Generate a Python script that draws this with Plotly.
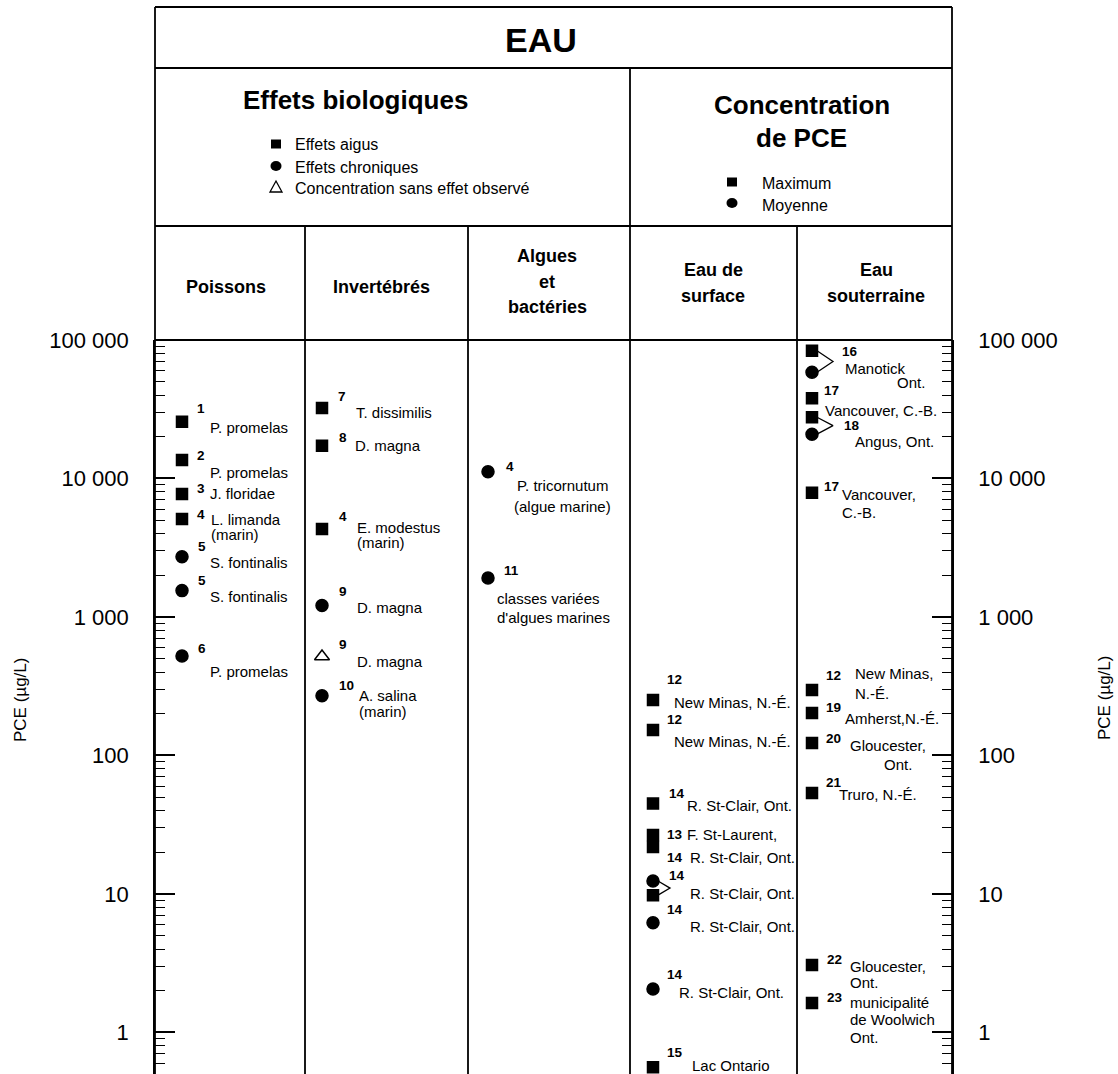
import math
import plotly.graph_objects as go

# ---------------- data ----------------
column_titles = [["Poissons"], ["Invertébrés"], ["Algues", "et", "bactéries"],
                 ["Eau de", "surface"], ["Eau", "souterraine"]]

fish_values = [25700, 13600, 7730, 5100, 2720, 1550, 522]
fish_kinds = ["aigu", "aigu", "aigu", "aigu", "chronique", "chronique", "chronique"]
fish_refs = ["1", "2", "3", "4", "5", "5", "6"]
fish_labels = ["P. promelas", "P. promelas", "J. floridae", "L. limanda\n(marin)",
               "S. fontinalis", "S. fontinalis", "P. promelas"]

invert_values = [32300, 17200, 4320, 1210, 519, 270]
invert_kinds = ["aigu", "aigu", "aigu", "chronique", "csao", "chronique"]
invert_refs = ["7", "8", "4", "9", "9", "10"]
invert_labels = ["T. dissimilis", "D. magna", "E. modestus\n(marin)", "D. magna",
                 "D. magna", "A. salina\n(marin)"]

algae_values = [11200, 1910]
algae_kinds = ["chronique", "chronique"]
algae_refs = ["4", "11"]
algae_labels = ["P. tricornutum\n(algue marine)", "classes variées\nd'algues marines"]

surface_values = [252, 153, 45, 26.7, 21.8, 12.4, 9.8, 6.2, 2.06, 0.56]
surface_kinds = ["max", "max", "max", "max", "max", "moy", "max", "moy", "moy", "max"]
surface_refs = ["12", "12", "14", "13", "14", "14", "", "14", "14", "15"]
surface_labels = ["New Minas, N.-É.", "New Minas, N.-É.", "R. St-Clair, Ont.", "F. St-Laurent,",
                  "R. St-Clair, Ont.", "R. St-Clair, Ont.", "", "R. St-Clair, Ont.",
                  "R. St-Clair, Ont.", "Lac Ontario"]
surface_pairs = [(5, 6)]

ground_values = [83700, 58500, 37900, 27700, 20900, 7890, 297, 203, 123, 53.6, 3.07, 1.63]
ground_kinds = ["max", "moy", "max", "max", "moy", "max", "max", "max", "max", "max", "max", "max"]
ground_refs = ["16", "", "17", "18", "", "17", "12", "19", "20", "21", "22", "23"]
ground_labels = ["Manotick\nOnt.", "", "Vancouver, C.-B.", "Angus, Ont.", "", "Vancouver,\nC.-B.",
                 "New Minas,\nN.-É.", "Amherst,N.-É.", "Gloucester,\nOnt.", "Truro, N.-É.",
                 "Gloucester,\nOnt.", "municipalité\nde Woolwich\nOnt."]
ground_pairs = [(0, 1), (3, 4)]

tick_values = [1, 10, 100, 1000, 10000, 100000]
tick_labels = ["1", "10", "100", "1 000", "10 000", "100 000"]
axis_title = "PCE (µg/L)"

legend_bio = [("aigu", "Effets aigus"), ("chronique", "Effets chroniques"),
              ("csao", "Concentration sans effet observé")]
legend_conc = [("max", "Maximum"), ("moy", "Moyenne")]

# ---------------- style / geometry ----------------
W, H = 1118, 1074
L, R, T, B = 155, 952, 340, 1074
COL_EDGES = [155, 305, 468, 630, 797, 952]
MARKER_DX = [27, 17, 20, 23, 15]
Y_RANGE = [-0.30, 5.0]
FONT = "Liberation Sans, Arial, sans-serif"
LW = 1.8
NAME_SIZE = 15
NUM_SIZE = 13.5

SYMBOL = {"aigu": "square", "chronique": "circle", "csao": "triangle-up-open",
          "max": "square", "moy": "circle"}
SIZE = {"square": 11, "circle": 12, "triangle-up-open": 13}

FISH_NUM = [(13, -13), (13, -5), (13, -5), (13, -4), (14, -10), (14, -10), (14, -8)]
FISH_NAME = [[(26, 6)], [(26, 12)], [(26, 0)], [(27, 1), (27, 16)], [(26, 6)], [(26, 6)], [(26, 15)]]
INV_NUM = [(14, -11), (15, -8), (15, -12), (15, -14), (15, -12), (15, -10)]
INV_NAME = [[(32, 5)], [(31, 0)], [(33, -1), (33, 14)], [(33, 2)], [(33, 5)], [(35, 0), (35, 16)]]
ALG_NUM = [(16, -5), (14, -8)]
ALG_NAME = [[(27, 14), (24, 35)], [(7, 20), (7, 39)]]
SURF_NUM = [(12, -20), (12, -10), (14, -10), (12, 0), (12, 10), (14, -6), None, (12, -13), (12, -14), (12, -15)]
SURF_NAME = [[(19, 3)], [(19, 12)], [(32, 2)], [(32, 0)], [(35, 10)], [(35, 12)], [], [(35, 4)], [(24, 4)], [(37, -2)]]
GROUND_NUM = [(28, 1), None, (10, -8), (30, 8), None, (10, -6), (12, -15), (12, -5), (12, -5), (12, -10), (13, -5), (13, -6)]
GROUND_NAME = [[(31, 18), (83, 32)], [], [(11, 12)], [(41, 24)], [], [(28, 2), (28, 20)],
               [(41, -17), (41, 3)], [(31, 6)], [(36, 2), (70, 21)], [(25, 2)], [(36, 2), (36, 18)],
               [(36, -1), (36, 16), (36, 34)]]
CHEVRON = {3: (5, 17), 4: (5, 21)}


def pxx(x):
    return (x - L) / (R - L)


def pxy(y):
    return (B - y) / (B - T)


fig = go.Figure()
annotations = []
shapes = []

groups = [
    (0, fish_values, fish_kinds, fish_refs, fish_labels, FISH_NUM, FISH_NAME, []),
    (1, invert_values, invert_kinds, invert_refs, invert_labels, INV_NUM, INV_NAME, []),
    (2, algae_values, algae_kinds, algae_refs, algae_labels, ALG_NUM, ALG_NAME, []),
    (3, surface_values, surface_kinds, surface_refs, surface_labels, SURF_NUM, SURF_NAME, surface_pairs),
    (4, ground_values, ground_kinds, ground_refs, ground_labels, GROUND_NUM, GROUND_NAME, ground_pairs),
]

for col, vals, kinds, refs, labels, num_off, name_off, pairs in groups:
    mx = COL_EDGES[col] - L + MARKER_DX[col]
    syms = [SYMBOL[k] for k in kinds]
    # chevrons joining max/mean pairs
    for a, b in pairs:
        d0, d1 = CHEVRON[col]
        fig.add_trace(go.Scatter(
            x=[mx + d0, mx + d1, mx + d0],
            y=[vals[a], math.sqrt(vals[a] * vals[b]), vals[b]],
            mode="lines", line=dict(color="black", width=1.3),
            hoverinfo="skip", showlegend=False))
    fig.add_trace(go.Scatter(
        x=[mx] * len(vals), y=vals, mode="markers", showlegend=False,
        marker=dict(symbol=syms, size=[SIZE[s] for s in syms], color="black", opacity=1,
                    line=dict(color="black", width=1.5)),
        hovertext=[f"{r} {t}" for r, t in zip(refs, labels)], hoverinfo="text+y"))
    for i, v in enumerate(vals):
        ly = math.log10(v)
        if refs[i] and num_off[i] is not None:
            dx, dy = num_off[i]
            annotations.append(dict(
                x=mx, y=ly, xref="x", yref="y", text=f"<b>{refs[i]}</b>", showarrow=False,
                xanchor="left", yanchor="middle", xshift=dx, yshift=-dy,
                font=dict(family=FONT, size=NUM_SIZE, color="black")))
        if labels[i]:
            for line, (dx, dy) in zip(labels[i].split("\n"), name_off[i]):
                annotations.append(dict(
                    x=mx, y=ly, xref="x", yref="y", text=line, showarrow=False,
                    xanchor="left", yanchor="middle", xshift=dx, yshift=-dy,
                    font=dict(family=FONT, size=NAME_SIZE, color="black")))

# helper trace for right axis
fig.add_trace(go.Scatter(x=[0], y=[fish_values[0]], yaxis="y2", mode="markers",
                         marker=dict(opacity=0), hoverinfo="skip", showlegend=False))

# ---------------- header frame ----------------
def hline(y, x0, x1):
    shapes.append(dict(type="line", xref="paper", yref="paper", x0=pxx(x0), x1=pxx(x1),
                       y0=pxy(y), y1=pxy(y), line=dict(color="black", width=LW)))


def vline(x, y0, y1):
    shapes.append(dict(type="line", xref="paper", yref="paper", x0=pxx(x), x1=pxx(x),
                       y0=pxy(y0), y1=pxy(y1), line=dict(color="black", width=LW)))


hline(7, 155, 952)
hline(68, 155, 952)
hline(226, 155, 952)
hline(340, 155, 952)
vline(155, 7, 1074)
vline(952, 7, 1074)
vline(630, 68, 1074)
for xe in COL_EDGES[1:-1]:
    if xe != 630:
        vline(xe, 226, 1074)


def text(x, y, s, size, bold=False, anchor="center", angle=0):
    annotations.append(dict(x=pxx(x), y=pxy(y), xref="paper", yref="paper",
                            text=f"<b>{s}</b>" if bold else s, showarrow=False,
                            xanchor=anchor, yanchor="middle", textangle=angle,
                            font=dict(family=FONT, size=size, color="black")))


text(541, 40, "EAU", 34, bold=True)
text(355, 100, "Effets biologiques", 26, bold=True)
text(802, 105, "Concentration", 26, bold=True)
text(801, 138, "de PCE", 26, bold=True)

header_pos = [(226, [287]), (381, [287]), (547, [256, 282, 307]), (713, [270, 296]), (876, [270, 296])]
for lines, (cx, ys) in zip(column_titles, header_pos):
    for s, yy in zip(lines, ys):
        text(cx, yy, s, 18, bold=True)


def legend_symbol(kind, cx, cy):
    sym = SYMBOL[kind]
    if sym == "square":
        shapes.append(dict(type="rect", xref="paper", yref="paper",
                           x0=pxx(cx - 5), x1=pxx(cx + 5), y0=pxy(cy + 4.5), y1=pxy(cy - 4.5),
                           fillcolor="black", line=dict(width=0)))
    elif sym == "circle":
        shapes.append(dict(type="circle", xref="paper", yref="paper",
                           x0=pxx(cx - 5.5), x1=pxx(cx + 5.5), y0=pxy(cy + 5), y1=pxy(cy - 5),
                           fillcolor="black", line=dict(width=0)))
    else:
        shapes.append(dict(type="path", xref="paper", yref="paper",
                           path=f"M {pxx(cx - 6)} {pxy(cy + 5)} L {pxx(cx + 6)} {pxy(cy + 5)} "
                                f"L {pxx(cx)} {pxy(cy - 6)} Z",
                           line=dict(color="black", width=1.3)))


for (kind, lab), yy in zip(legend_bio, [144, 166, 187]):
    legend_symbol(kind, 276, yy)
    text(293, yy + 1, lab, 16, anchor="left")
for (kind, lab), yy in zip(legend_conc, [182, 203]):
    legend_symbol(kind, 732, yy)
    text(760, yy + 2, lab, 16, anchor="left")

text(20, 700, axis_title, 17, angle=-90)
text(1104, 698, axis_title, 17, angle=-90)

# ---------------- axes ----------------
minor_vals = [k * 10 ** d for d in range(-1, 5) for k in range(2, 10)]
yax = dict(type="log", range=Y_RANGE, tickvals=tick_values, ticktext=tick_labels,
           ticks="inside", ticklen=20, tickwidth=1.5, tickcolor="black",
           showline=True, linecolor="black", linewidth=LW, showgrid=False, zeroline=False,
           tickfont=dict(family=FONT, size=22, color="black"), ticklabelstandoff=20,
           minor=dict(tickvals=minor_vals, ticks="inside", ticklen=10, tickwidth=1,
                      tickcolor="black", showgrid=False))

fig.update_layout(
    width=W, height=H,
    margin=dict(l=L, r=W - R, t=T, b=H - B, pad=0),
    paper_bgcolor="white", plot_bgcolor="white",
    xaxis=dict(range=[0, R - L], visible=False, fixedrange=True),
    yaxis=yax,
    yaxis2=dict(yax, overlaying="y", side="right", matches="y", anchor="x"),
    shapes=shapes, annotations=annotations,
    showlegend=False,
)

fig.write_html("out.html", config={"displayModeBar": False},
               post_script="document.body.style.margin='0';document.body.style.overflow='hidden';")
